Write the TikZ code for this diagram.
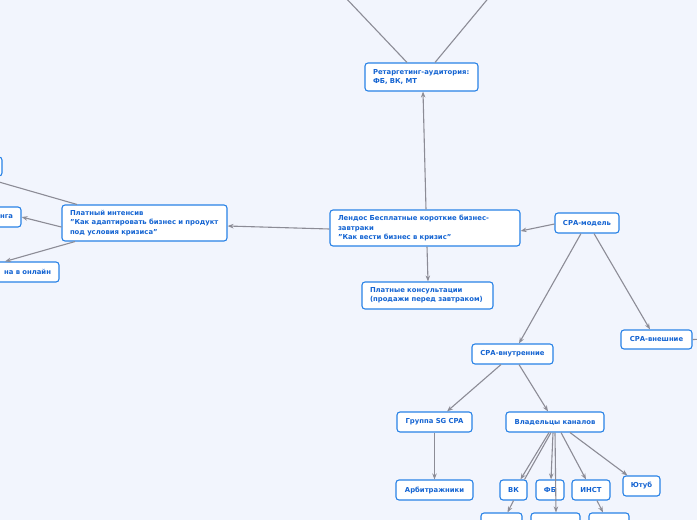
\documentclass[tikz,border=0pt]{standalone}
\usepackage{fontspec}
\setmainfont{DejaVu Sans}
\usetikzlibrary{arrows.meta,calc}
\definecolor{bg}{RGB}{242,245,253}
\definecolor{bord}{RGB}{40,130,230}
\definecolor{txt}{RGB}{20,100,210}
\definecolor{ln}{RGB}{140,140,150}
\tikzset{
 mbox/.style={draw=bord, fill=white, rounded corners=3pt, line width=1.1pt, text=txt,
   font=\fontsize{6.85}{9.2}\selectfont\bfseries, inner xsep=8pt, inner ysep=0pt, minimum height=20pt},
 cbox/.style={mbox, inner xsep=0pt, align=center},
 conn/.style={draw=ln, line width=1.1pt, -{Stealth[length=6pt,width=4.5pt]}},
 plainln/.style={draw=ln, line width=1.1pt},
}
\begin{document}
\begin{tikzpicture}[x=1pt,y=-1pt]
\fill[bg] (0,0) rectangle (697,520);
\useasboundingbox (0,0) rectangle (697,520);
\clip (0,0) rectangle (697,520);
% nodes
\node[mbox, minimum width=113pt, minimum height=28pt, text width=97pt, align=left] (ret) at (421.5,77) {Ретаргетинг-аудитория:\\ФБ, ВК, МТ};
\node[mbox, minimum width=190pt, minimum height=36pt, text width=174pt, align=left] (lend) at (425,228) {Лендос Бесплатные короткие бизнес-\\завтраки\\"Как вести бизнес в кризис"};
\node[mbox, minimum width=131pt, minimum height=27pt, text width=115pt, align=left] (cons) at (427.5,295.5) {Платные консультации\\(продажи перед завтраком)};
\node[mbox, minimum width=165pt, minimum height=36pt, text width=149pt, align=left] (int) at (144.5,223) {Платный интенсив\\"Как адаптировать бизнес и продукт\\под условия кризиса"};
\node[mbox, minimum width=61pt, text width=45pt, align=right] (nga) at (-9.5,217) {нга};
\node[mbox, minimum width=64pt, minimum height=19pt, text width=48pt] (tl) at (-30,166.5) {};
\node[mbox, minimum width=119pt, text width=103pt, align=right] (onl) at (-0.5,272) {на в онлайн};
\node[cbox, minimum width=64pt] (cpam) at (587,223) {СРА-модель};
\node[cbox, minimum width=71pt, minimum height=19pt] (cpae) at (656.5,339.5) {СРА-внешние};
\node[cbox, minimum width=81pt] (cpai) at (512.5,354) {СРА-внутренние};
\node[cbox, minimum width=75pt] (sg) at (434.5,422) {Группа SG CPA};
\node[cbox, minimum width=98pt] (own) at (555,422) {Владельцы каналов};
\node[cbox, minimum width=77pt] (arb) at (434.5,490) {Арбитражники};
\node[cbox, minimum width=27pt] (vk) at (513.5,490) {ВК};
\node[cbox, minimum width=28pt] (fb) at (550,490) {ФБ};
\node[cbox, minimum width=38pt] (inst) at (591,490) {ИНСТ};
\node[cbox, minimum width=37pt] (yt) at (641.5,486) {Ютуб};
\node[cbox, minimum width=41pt] (b1) at (501.5,523) {};
\node[cbox, minimum width=49pt] (b2) at (555.5,523) {};
\node[cbox, minimum width=40pt] (b3) at (609,523) {};
\coordinate (top1) at (343,-5);
\coordinate (top2) at (491,-5);
\coordinate (rgt) at (712,339);
% connectors
\draw[plainln] ([xshift=-14.5pt]ret.north) -- (top1);
\draw[plainln] ([xshift=13.5pt]ret.north) -- (top2);
\draw[conn] ([xshift=1pt]lend.north) -- ([xshift=1.5pt]ret.south);
\draw[conn] ([yshift=-1pt]lend.west) -- ([yshift=-3pt]int.east);
\draw[conn] ([yshift=-1pt]cpam.west) -- ([yshift=-3pt]lend.east);
\draw[conn] ([xshift=2pt]lend.south) -- ([xshift=0.5pt]cons.north);
\draw[conn] ([xshift=-6pt]cpam.south) -- ([xshift=6.5pt]cpai.north);
\draw[conn] ([xshift=7pt]cpam.south) -- ([xshift=-6.5pt]cpae.north);
\draw[plainln] (cpae.east) -- (rgt);
\draw[conn] ([xshift=-11.5pt]cpai.south) -- ([xshift=12.5pt]sg.north);
\draw[conn] ([xshift=6.5pt]cpai.south) -- ([xshift=-7pt]own.north);
\draw[conn] (sg.south) -- (arb.north);
\draw[conn] ([xshift=-6pt]own.south) -- ([xshift=7pt]vk.north);
\draw[plainln] ([xshift=-4pt]own.south) -- ([xshift=11pt]vk.north);
\draw[conn] ([xshift=-2pt]own.south) -- ([xshift=1pt]fb.north);
\draw[conn] (own.south) -- ([xshift=0.5pt]b2.north);
\draw[conn] ([xshift=6pt]own.south) -- ([xshift=-5pt]inst.north);
\draw[conn] ([xshift=15pt]own.south) -- ([xshift=-14pt]yt.north);
\draw[conn] (vk.south) -- ([xshift=6pt]b1.north);
\draw[conn] ([xshift=6pt]inst.south) -- ([xshift=-6pt]b3.north);
\draw[conn] ([yshift=-4pt]int.west) -- ([yshift=-0pt]nga.east);
\draw[conn] ([xshift=-69.5pt]int.south) -- ([xshift=5.5pt]onl.north);
\draw[plainln] ([xshift=-67.5pt]int.north) -- ([xshift=10pt]tl.south);
\end{tikzpicture}
\end{document}
